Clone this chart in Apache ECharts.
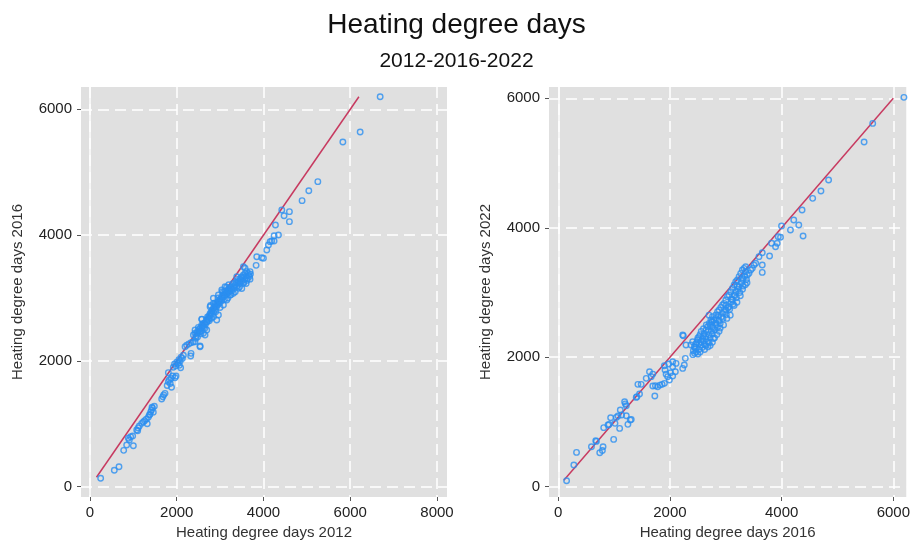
<!DOCTYPE html>
<html>
<head>
<meta charset="utf-8">
<script src="https://cdn.jsdelivr.net/npm/echarts@6/dist/echarts.min.js"></script>
<style>
  html, body { margin: 0; padding: 0; background: #ffffff; }
  #chart { width: 913px; height: 546px; }
</style>
</head>
<body>
<div id="chart"></div>
<script>
// Titles and axis labels
const titleText = 'Heating degree days';
const subtitleText = '2012-2016-2022';
const xNameLeft = 'Heating degree days 2012';
const yNameLeft = 'Heating degree days 2016';
const xNameRight = 'Heating degree days 2016';
const yNameRight = 'Heating degree days 2022';

// Tick values shown on each axis
const ticksLeftX = [0, 2000, 4000, 6000, 8000];
const ticksLeftY = [0, 2000, 4000, 6000];
const ticksRightX = [0, 2000, 4000, 6000];
const ticksRightY = [0, 2000, 4000, 6000];

// Heating degree days per region: [2012, 2016]
const hdd2012vs2016 = [
  [246,133],[561,262],[669,318],[777,578],[846,663],[884,769],[907,742],[938,795],[984,806],[1000,652],
  [1077,901],[1110,935],[1138,965],[1100,890],[1192,1007],[1230,1030],[1260,1050],[1300,1075],[1345,1103],[1369,1140],
  [1320,1000],[1384,1150],[1400,1190],[1420,1220],[1440,1250],[1460,1185],[1484,1280],[1430,1265],
  [1653,1394],[1680,1430],[1700,1460],[1730,1484],
  [1780,1610],[1807,1670],[1830,1700],[1850,1640],[1870,1720],[1907,1760],[1807,1813],[1880,1580],
  [1922,1900],[1950,1950],[1980,1920],[2000,1980],[2030,1960],[2050,2020],[2080,2000],[2100,2060],[2130,2040],[2153,2090],
  [2060,1930],[2090,1890],[1960,1733],[1984,1760],
  [2192,2226],[2230,2250],[2280,2270],[2330,2290],[2380,2300],[2422,2305],[2322,2078],[2330,2120],[2538,2237],
  [2384,2412],[2461,2438],[2538,2465],[2422,2491],[2499,2533],[2576,2571],[2615,2597],[2576,2661],[2692,2624],[2730,2692],
  [2769,2756],[2807,2798],[2845,2836],[2884,2862],[2922,2889],[2769,2862],[2845,2915],[2961,2942],[2999,2979],[3038,3021],
  [3076,3048],[3115,3074],[3153,3085],[3191,3116],[3230,3127],[3268,3138],[3307,3180],[3345,3207],[3384,3244],[3422,3260],
  [3461,3297],[3499,3339],[3538,3366],[3576,3392],[3614,3419],[3653,3392],[3691,3419],[3576,3472],[3538,3498],[3384,3339],
  [3461,3260],[3307,3074],[3230,3048],[3153,2968],[3076,2889],[2961,2730],[2922,2650],[2653,2412],[2538,2226],[2615,2438],
  [2692,2491],[3115,3180],[3038,3127],[2961,3048],[2845,2995],[3538,3233],[3422,3154],
  [2420,2440],[2450,2400],[2480,2470],[2500,2450],[2520,2500],[2540,2520],[2560,2480],[2580,2540],[2600,2560],[2620,2530],
  [2640,2600],[2660,2580],[2680,2650],[2700,2620],[2710,2700],[2730,2660],[2750,2720],[2760,2680],[2780,2740],[2800,2770],
  [2820,2740],[2830,2810],[2850,2780],[2870,2850],[2890,2820],[2900,2900],[2920,2860],[2940,2930],[2960,2900],[2980,2960],
  [3000,2930],[3020,2990],[3040,2960],[3060,3010],[3080,3090],[3100,3030],[3120,3110],[3140,3060],[3160,3120],[3180,3080],
  [3200,3150],[3220,3100],[3250,3170],[3280,3120],[3300,3230],[3330,3160],[3360,3250],[3390,3190],[3420,3300],[3450,3230],
  [3480,3320],[3510,3270],[3540,3330],[3570,3300],[3600,3350],[3630,3310],[3660,3360],[3680,3340],
  [2580,2665],[2800,2680],[2780,2880],
  [3350,3100],[3450,3180],[3550,3250],[3600,3230],[3500,3150],[3620,3280],[3700,3380],[3690,3300],[3250,3050],[3180,3000],
  [3100,2980],[3000,2850],[2900,2780],[2850,2700],[2750,2640],[2650,2520],[2560,2430],[2480,2380],[2440,2360],[3050,3100],
  [3150,3170],[3200,3210],[2950,3000],[2880,2920],
  [3830,3519],[3845,3657],[3960,3641],[3999,3631],[4076,3763],[4114,3843],[4153,3896],[4191,3906],[4245,3906],[4245,3991],
  [4345,4002],[4276,4161],[4422,4400],[4475,4309],[4598,4373],[4598,4214],[4890,4548],[5045,4706],[5253,4850],
  [5830,5480],[6229,5640],[6690,6200]
];

// Heating degree days per region: [2016, 2022]
const hdd2016vs2022 = [
  [149,93],[279,335],[327,530],[594,618],[671,711],[683,700],[743,525],[790,560],[802,618],[814,912],
  [891,953],[910,960],[938,1066],[992,731],[1016,979],[1040,1071],[1070,1092],[1111,1184],[1135,1107],[1218,1097],
  [1099,901],[1188,1313],[1200,1280],[1218,1251],[1247,963],[1289,1030],[1307,1040],
  [1396,1380],[1408,1390],[1426,1581],[1485,1581],[1455,1432],[1575,1674],[1634,1777],[1664,1700],[1693,1740],[1729,1401],
  [1693,1555],[1740,1560],[1780,1545],[1820,1570],[1860,1581],[1901,1597],
  [1931,1739],[1960,1700],[1990,1648],[2010,1760],[2049,1931],[2049,1710],[2097,1777],[2049,1854],[1978,1895],[2109,1905],
  [1900,1869],[1912,1802],[2228,1828],[2257,1880],[2275,1983],[2239,2333],[2287,2189],[2228,2343],
  [2410,2040],[2440,2060],[2470,2080],[2500,2050],[2460,2130],[2520,2120],
  [2376,2189],[2406,2240],[2436,2163],[2465,2204],[2495,2266],[2525,2318],[2555,2240],[2584,2292],[2614,2369],[2644,2421],
  [2673,2472],[2703,2524],[2733,2575],[2762,2627],[2792,2575],[2822,2652],[2852,2704],[2881,2730],[2911,2771],[2941,2807],
  [2970,2833],[3000,2884],[3030,2936],[3059,2961],[3089,3013],[3119,3064],[3149,3116],[3178,3167],[3208,3193],[3238,3245],
  [3267,3296],[3297,3348],[3327,3373],[3356,3322],[3386,3270],[3178,3013],[3119,2884],[3000,2730],[2881,2575],[2762,2472],
  [2644,2318],[2525,2215],[3059,2781],[2941,2678],[2822,2524],[3297,3219],[3238,3090],[3149,2961],[3356,3399],[3416,3296],
  [3446,3348],
  [2560,2190],[2600,2250],[2620,2200],[2650,2280],[2680,2240],[2700,2350],[2720,2300],[2740,2400],[2760,2360],[2780,2450],
  [2800,2420],[2830,2500],[2850,2460],[2870,2560],[2900,2520],[2920,2620],[2950,2600],[2980,2700],[3010,2660],[3040,2760],
  [3070,2740],[3100,2850],[3130,2820],[3160,2950],[3190,2920],[3220,3050],[3250,3000],[3280,3150],[3310,3100],[3340,3250],
  [3370,3200],[2700,2650],[2750,2550],[2650,2500],[2600,2440],[2560,2400],[2780,2290],[2880,2400],
  [2420,2100],[2450,2150],[2480,2230],[2540,2080],[2580,2150],[2620,2120],[2640,2180],[2680,2160],[2700,2220],[2720,2180],
  [2760,2230],[2800,2300],[2840,2350],[2900,2450],[2960,2500],[3020,2600],[3080,2650],[3150,2800],[3200,2850],[3260,2950],
  [3300,3050],[3350,3120],[3380,3150],[2500,2300],[2540,2350],[2600,2330],[2680,2400],[2720,2500],[2760,2550],[2820,2600],
  [2870,2650],[3000,2800],[3100,2900],[3200,3100],[3300,3200],
  [3475,3373],[3505,3425],[3535,3451],[3594,3554],[3653,3615],[3653,3311],[3653,3425],[3784,3564],[3820,3760],[3891,3708],
  [3921,3760],[3939,3863],[3980,3853],[3998,4027],[4158,3965],[4217,4120],[4307,4043],[4384,3873],[4366,4274],
  [4556,4455],[4704,4568],[4841,4738],[5477,5325],[5631,5613],[6190,6015]
];

// Equal-value reference lines (y = x)
const equalLineLeft = [[150,150],[6200,6200]];
const equalLineRight = [[100,100],[6000,6000]];

// Visible value range of each panel
const rangeLeftX = [-207, 8231];
const rangeLeftY = [-164, 6355];
const rangeRightX = [-166, 6232];
const rangeRightY = [-159, 6175];

const FONT = '"Liberation Sans", Arial, Helvetica, sans-serif';
const PANEL_BG = '#e0e0e0';
const DOT = '#2b8ff0';
const REF = '#c73a60';

function makeAxis(gridIndex, range, ticks, name, isX) {
  return {
    type: 'value',
    gridIndex: gridIndex,
    min: range[0],
    max: range[1],
    name: name,
    nameLocation: 'middle',
    nameGap: isX ? 28 : 56,
    nameTextStyle: { fontFamily: FONT, fontSize: 15, color: '#333' },
    axisLine: { show: false, onZero: false },
    axisTick: { show: true, length: 4, customValues: ticks, lineStyle: { color: '#555', width: 1 } },
    axisLabel: {
      customValues: ticks, margin: isX ? 8 : 9, fontFamily: FONT, fontSize: 15, color: '#222',
      formatter: function (v) { return String(v); }
    },
    splitLine: { show: true, lineStyle: { color: '#ffffff', type: [11, 6], width: 1.5 } }
  };
}

function zeroLine() {
  return {
    silent: true,
    symbol: 'none',
    label: { show: false },
    lineStyle: { color: '#ffffff', type: 'solid', width: 1.5 },
    data: [{ xAxis: 0 }]
  };
}

const chart = echarts.init(document.getElementById('chart'), null, { renderer: 'canvas' });

chart.setOption({
  animation: false,
  backgroundColor: '#ffffff',
  title: [
    { text: titleText, left: 'center', top: 6, textStyle: { fontFamily: FONT, fontSize: 28, fontWeight: 'normal', color: '#111' } },
    { text: subtitleText, left: 'center', top: 46, textStyle: { fontFamily: FONT, fontSize: 21, fontWeight: 'normal', color: '#111' } }
  ],
  grid: [
    { left: 81, top: 87, width: 366, height: 410, show: true, backgroundColor: PANEL_BG, borderWidth: 0 },
    { left: 549, top: 87, width: 359, height: 410, show: true, backgroundColor: PANEL_BG, borderWidth: 0 }
  ],
  xAxis: [
    makeAxis(0, rangeLeftX, ticksLeftX, xNameLeft, true),
    makeAxis(1, rangeRightX, ticksRightX, xNameRight, true)
  ],
  yAxis: [
    makeAxis(0, rangeLeftY, ticksLeftY, yNameLeft, false),
    makeAxis(1, rangeRightY, ticksRightY, yNameRight, false)
  ],
  series: [
    {
      type: 'line', xAxisIndex: 0, yAxisIndex: 0, data: equalLineLeft, symbol: 'none', z: 2,
      lineStyle: { color: REF, width: 1.5 }, markLine: zeroLine()
    },
    {
      type: 'scatter', xAxisIndex: 0, yAxisIndex: 0, data: hdd2012vs2016, symbol: 'circle', symbolSize: 5.5, z: 3,
      itemStyle: { color: 'rgba(0,0,0,0)', borderColor: DOT, borderWidth: 1.4 }
    },
    {
      type: 'line', xAxisIndex: 1, yAxisIndex: 1, data: equalLineRight, symbol: 'none', z: 2,
      lineStyle: { color: REF, width: 1.5 }, markLine: zeroLine()
    },
    {
      type: 'scatter', xAxisIndex: 1, yAxisIndex: 1, data: hdd2016vs2022, symbol: 'circle', symbolSize: 5.5, z: 3,
      itemStyle: { color: 'rgba(0,0,0,0)', borderColor: DOT, borderWidth: 1.4 }
    }
  ]
});
</script>
</body>
</html>
